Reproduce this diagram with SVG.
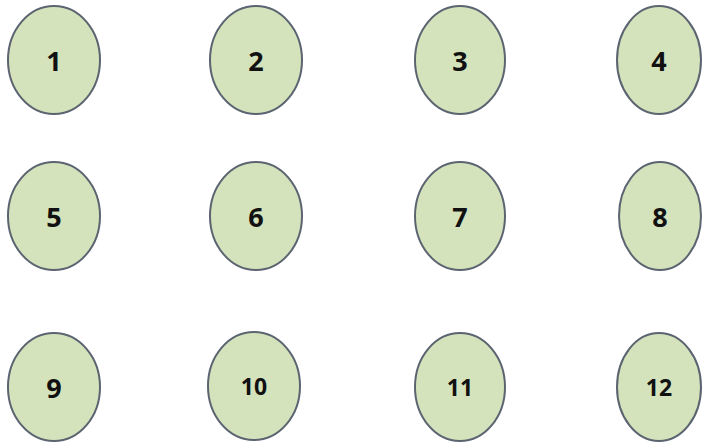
<svg xmlns="http://www.w3.org/2000/svg" width="702" height="446" viewBox="0 0 702 446">
<style>
.n{fill:#d4e3bb;stroke:#5b6470;stroke-width:2}
.t{font-family:"Open Sans","Liberation Sans",sans-serif;font-weight:bold;font-size:27px;fill:#111;text-anchor:middle;dominant-baseline:central}
.s{font-size:23px}
</style>
<rect width="702" height="446" fill="#ffffff"/>
<g id="node1"><ellipse class="n" cx="54" cy="60" rx="46" ry="54"/><text class="t" x="54" y="60">1</text></g>
<g id="node2"><ellipse class="n" cx="256" cy="60" rx="46" ry="54"/><text class="t" x="256" y="60">2</text></g>
<g id="node3"><ellipse class="n" cx="460" cy="60" rx="45" ry="54"/><text class="t" x="460" y="60">3</text></g>
<g id="node4"><ellipse class="n" cx="659" cy="60" rx="42" ry="54"/><text class="t" x="659" y="60">4</text></g>
<g id="node5"><ellipse class="n" cx="54" cy="216" rx="46" ry="54"/><text class="t" x="54" y="216">5</text></g>
<g id="node6"><ellipse class="n" cx="256" cy="216" rx="46" ry="54"/><text class="t" x="256" y="216">6</text></g>
<g id="node7"><ellipse class="n" cx="460" cy="216" rx="45" ry="54"/><text class="t" x="460" y="216">7</text></g>
<g id="node8"><ellipse class="n" cx="660" cy="216" rx="41" ry="54"/><text class="t" x="660" y="216">8</text></g>
<g id="node9"><ellipse class="n" cx="54" cy="387" rx="46" ry="54"/><text class="t" x="54" y="387">9</text></g>
<g id="node10"><ellipse class="n" cx="254" cy="386" rx="46" ry="54"/><text class="t s" x="254" y="386">10</text></g>
<g id="node11"><ellipse class="n" cx="460" cy="387" rx="45" ry="54"/><text class="t s" x="460" y="387">11</text></g>
<g id="node12"><ellipse class="n" cx="659" cy="387" rx="42" ry="54"/><text class="t s" x="659" y="387">12</text></g>
<g id="connectors"></g>
</svg>
